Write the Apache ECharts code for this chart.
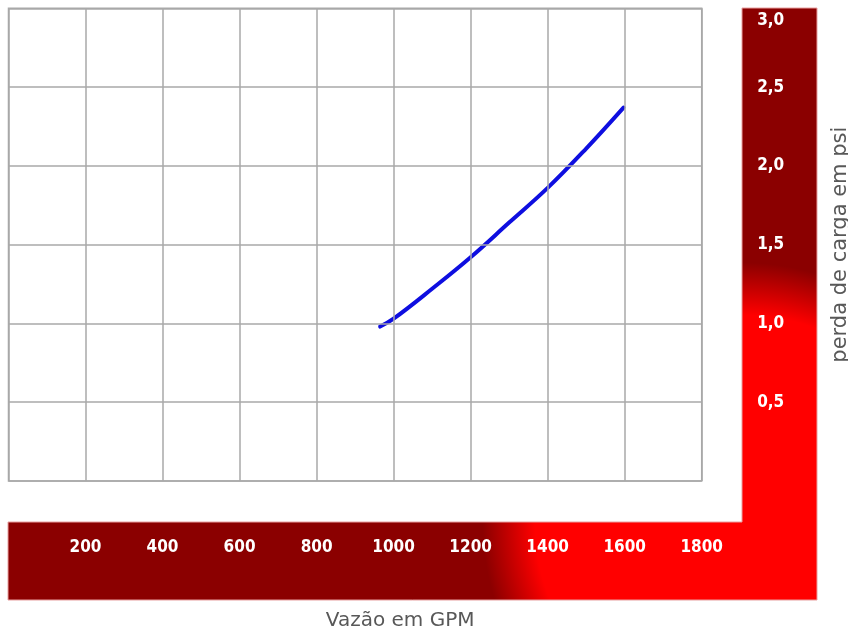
<!DOCTYPE html>
<html>
<head>
<meta charset="utf-8">
<script src="https://cdn.jsdelivr.net/npm/echarts@6/dist/echarts.min.js"></script>
<style>
html,body{margin:0;padding:0;background:#fff;}
#chart{width:848px;height:631px;}
</style>
</head>
<body>
<div id="chart"></div>
<script>
// Data
var flowGPM = [965, 1000, 1100, 1200, 1300, 1400, 1500, 1597];
var lossPsi = [0.98, 1.03, 1.22, 1.42, 1.64, 1.86, 2.11, 2.37];
var xTicks = [0, 1800, 200];   // min, max, interval
var yTicks = [0, 3, 0.5];       // min, max, interval
var xTitle = 'Vazão em GPM';
var yTitle = 'perda de carga em psi';

var chart = echarts.init(document.getElementById('chart'), null, {renderer: 'canvas'});

var labelFont = 'DejaVu Sans Condensed, DejaVu Sans, sans-serif';

var option = {
  animation: false,
  backgroundColor: '#ffffff',
  grid: {
    left: 8.5, right: 146.3, top: 8.3, bottom: 150,
    containLabel: false, outerBoundsMode: 'none',
    show: true, borderColor: '#a9a9a9', borderWidth: 1.5, backgroundColor: 'transparent'
  },
  xAxis: {
    type: 'value',
    min: xTicks[0], max: xTicks[1], interval: xTicks[2],
    z: 10,
    axisLine: {show: false}, axisTick: {show: false},
    splitLine: {show: true, lineStyle: {color: '#a9a9a9', width: 1.5}},
    axisLabel: {
      showMinLabel: false,
      margin: 67, verticalAlign: 'middle',
      color: '#ffffff', fontWeight: 'bold', fontSize: 17, fontFamily: labelFont,
      formatter: function (v) { return v === 0 ? '' : String(v); }
    },
    name: xTitle, nameLocation: 'middle', nameGap: 130,
    nameTextStyle: {color: '#585858', fontSize: 20, fontFamily: 'DejaVu Sans, sans-serif', padding: [0, 0, 0, 90]}
  },
  yAxis: {
    type: 'value', position: 'right',
    min: yTicks[0], max: yTicks[1], interval: yTicks[2],
    z: 10,
    axisLine: {show: false}, axisTick: {show: false},
    splitLine: {show: true, lineStyle: {color: '#a9a9a9', width: 1.5}},
    axisLabel: {
      showMinLabel: false,
      margin: 54, align: 'left',
      color: '#ffffff', fontWeight: 'bold', fontSize: 17, fontFamily: labelFont,
      formatter: function (v) {
        if (v === 0) return '';
        var s = v.toFixed(1).replace('.', ',');
        return v === yTicks[1] ? '{top|' + s + '}' : '{n|' + s + '}';
      },
      rich: {
        top: {width: 30, align: 'center', padding: [24, 0, 0, 0], color: '#ffffff', fontWeight: 'bold', fontSize: 17, fontFamily: labelFont},
        n: {width: 30, align: 'center', color: '#ffffff', fontWeight: 'bold', fontSize: 17, fontFamily: labelFont}
      }
    },
    name: yTitle, nameLocation: 'middle', nameGap: 128,
    nameTextStyle: {color: '#585858', fontSize: 21, fontFamily: 'DejaVu Sans, sans-serif'}
  },
  graphic: [{
    type: 'polygon',
    z: -10,
    silent: true,
    shape: {
      points: [[8, 522], [742, 522], [742, 8], [817, 8], [817, 600], [8, 600]]
    },
    style: {
      fill: new echarts.graphic.RadialGradient(742, 522, 262, [
        {offset: 0, color: '#ff0000'},
        {offset: 0.79, color: '#ff0000'},
        {offset: 0.99, color: '#8b0000'},
        {offset: 1, color: '#8b0000'}
      ], true),
      stroke: '#e8a0a0', lineWidth: 1
    }
  }],
  series: [{
    type: 'line',
    data: flowGPM.map(function (x, i) { return [x, lossPsi[i]]; }),
    smooth: 0.4,
    showSymbol: false,
    lineStyle: {color: '#0e0ee0', width: 4, cap: 'round'},
    z: 5
  }]
};
chart.setOption(option);
</script>
</body>
</html>
